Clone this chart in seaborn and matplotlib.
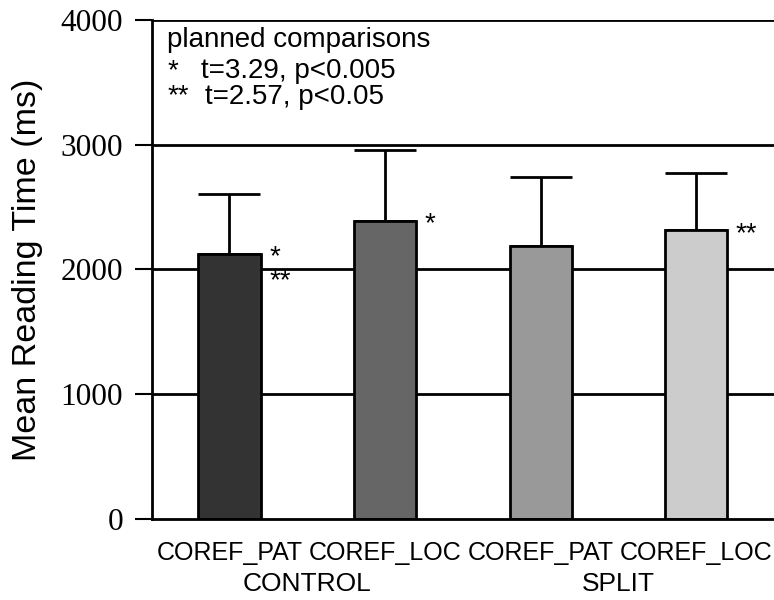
import pandas as pd
import matplotlib
matplotlib.use("Agg")
import matplotlib.pyplot as plt
import seaborn as sns

# data
groups = ["CONTROL", "CONTROL", "SPLIT", "SPLIT"]
conditions = ["COREF_PAT", "COREF_LOC", "COREF_PAT", "COREF_LOC"]
mean_rt = [2124, 2391, 2186, 2314]
err_top = [2606, 2953, 2737, 2776]
stars = [["*", "**"], ["*"], [], ["**"]]
bar_colors = ["#333333", "#666666", "#999999", "#cccccc"]
yticks = [0, 1000, 2000, 3000, 4000]

df = pd.DataFrame({"group": groups, "cond": conditions, "rt": mean_rt})
df["key"] = df["group"] + " " + df["cond"]

sns.set_style("white")
plt.rcParams["font.family"] = ["Liberation Sans", "DejaVu Sans"]
plt.rcParams["text.color"] = "black"
plt.rcParams["axes.labelcolor"] = "black"
plt.rcParams["xtick.color"] = "black"
plt.rcParams["ytick.color"] = "black"

fig = plt.figure(figsize=(7.74, 6.0), dpi=100)
ax = fig.add_axes([0.196, 0.135, 0.804, 0.832])

# horizontal lines behind the bars
for v in yticks[1:]:
    ax.axhline(v, color="black", lw=2, zorder=0)

sns.barplot(data=df, x="key", y="rt", hue="key", palette=bar_colors,
            legend=False, width=0.4, edgecolor="black", linewidth=2,
            ax=ax, zorder=2)

# only upper error bars
upper = [e - m for e, m in zip(err_top, mean_rt)]
ax.errorbar(range(4), mean_rt, yerr=[[0] * 4, upper], fmt="none",
            ecolor="black", elinewidth=2, capsize=22.5, capthick=2, zorder=1)

# significance stars next to bars
for i, s in enumerate(stars):
    for k, txt in enumerate(s):
        ax.text(i + 0.255, mean_rt[i] - 30 - k * 190, txt, ha="left",
                va="center", fontsize=20)

ax.text(0.025, 0.946, "planned comparisons", transform=ax.transAxes,
        ha="left", va="baseline", fontsize=20)
ax.text(0.025, 0.884, "*", transform=ax.transAxes, ha="left", va="baseline", fontsize=20)
ax.text(0.08, 0.884, "t=3.29, p<0.005", transform=ax.transAxes, ha="left", va="baseline", fontsize=20)
ax.text(0.025, 0.832, "**", transform=ax.transAxes, ha="left", va="baseline", fontsize=20)
ax.text(0.086, 0.832, "t=2.57, p<0.05", transform=ax.transAxes, ha="left", va="baseline", fontsize=20)

ax.set_xlim(-0.5, 3.5)
ax.set_ylim(0, 4000)
ax.set_yticks(yticks)
ax.set_yticklabels([str(t) for t in yticks], family="Liberation Serif", fontsize=22.5)
ax.tick_params(axis="y", direction="out", length=12.5, width=1.5, left=True, pad=8)
ax.tick_params(axis="x", length=0, pad=16)
ax.set_xticks(range(4))
ax.set_xticklabels(conditions, fontsize=18)

for i in (0, 2):
    ax.text(i + 0.5, -0.13, groups[i], transform=ax.get_xaxis_transform(),
            ha="center", va="center", fontsize=19)

ax.set_xlabel("")
ax.set_ylabel("Mean Reading Time (ms)", fontsize=24.5)
ax.yaxis.set_label_coords(-0.174, 0.5)
for sp in ["top", "right"]:
    ax.spines[sp].set_visible(False)
for sp in ["left", "bottom"]:
    ax.spines[sp].set_linewidth(2)
    ax.spines[sp].set_color("black")

fig.savefig("out.png", dpi=100)
